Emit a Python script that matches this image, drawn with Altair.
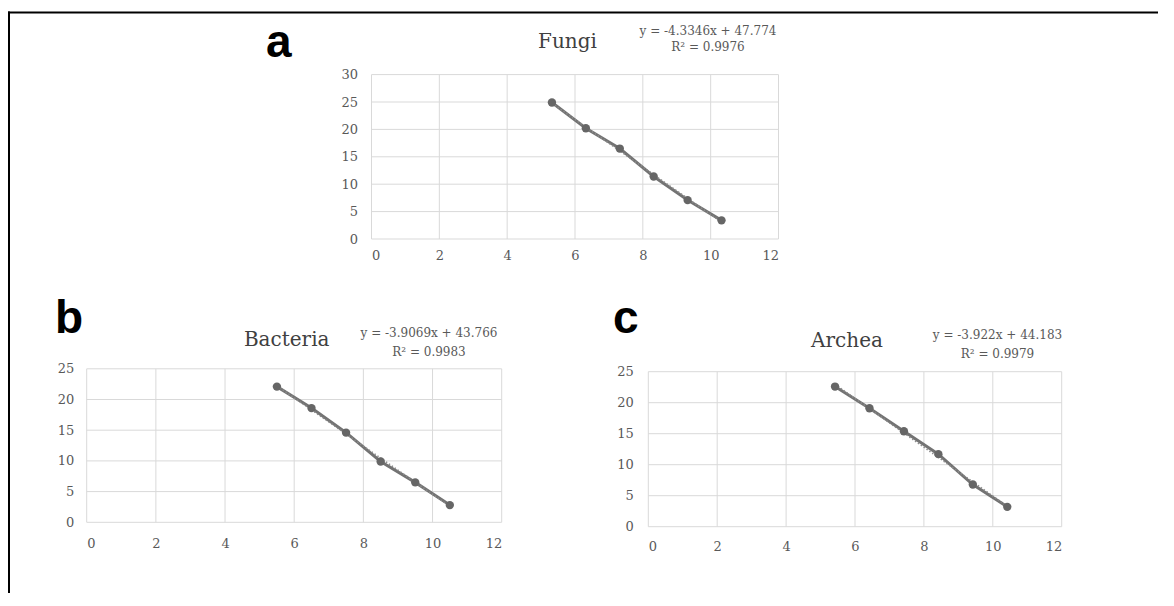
import altair as alt
import pandas as pd

# ---------------- data ----------------
panel_letters = ["a", "b", "c"]
panel_titles = ["Fungi", "Bacteria", "Archea"]
equations = ["y = -4.3346x + 47.774", "y = -3.9069x + 43.766", "y = -3.922x + 44.183"]
r_squared = ["R\u00b2 = 0.9976", "R\u00b2 = 0.9983", "R\u00b2 = 0.9979"]

fungi_x = [5.32, 6.32, 7.32, 8.32, 9.32, 10.32]
fungi_y = [24.9, 20.2, 16.5, 11.4, 7.1, 3.4]
bacteria_x = [5.5, 6.5, 7.5, 8.5, 9.5, 10.5]
bacteria_y = [22.1, 18.6, 14.6, 9.9, 6.5, 2.8]
archea_x = [5.42, 6.42, 7.42, 8.42, 9.42, 10.42]
archea_y = [22.6, 19.1, 15.4, 11.7, 6.8, 3.2]

x_ticks = [0, 2, 4, 6, 8, 10, 12]
fungi_y_ticks = [0, 5, 10, 15, 20, 25, 30]
other_y_ticks = [0, 5, 10, 15, 20, 25]

# ---------------- layout / style ----------------
W, H = 1150, 585
GRID = "#d9d9d9"
LABEL = "#595959"
SERIF = "DejaVu Serif"

panels = [
    dict(x=fungi_x, y=fungi_y, yt=fungi_y_ticks, xr=[363.5, 770.5], yr=[231, 66.6],
         xpad=10, ypad=14, title=(559.5, 40), eq=(700, 27, 42.5), lab=(258, 49)),
    dict(x=bacteria_x, y=bacteria_y, yt=other_y_ticks, xr=[78.7, 493.7], yr=[514.3, 360.8],
         xpad=15, ypad=13, title=(278.7, 338), eq=(421, 329, 348), lab=(47, 325)),
    dict(x=archea_x, y=archea_y, yt=other_y_ticks, xr=[640.3, 1053.7], yr=[518.7, 363.7],
         xpad=14, ypad=15, title=(839, 339), eq=(989.5, 331, 349.5), lab=(605, 325)),
]


def panel_layers(i, p):
    xmax = x_ticks[-1]
    ymax = p["yt"][-1]
    xs = alt.Scale(domain=[0, xmax], range=p["xr"], nice=False, zero=False)
    ys = alt.Scale(domain=[0, ymax], range=p["yr"], nice=False, zero=False)
    layers = []

    vgrid = pd.DataFrame({"v": x_ticks, "y0": [0] * len(x_ticks), "y1": [ymax] * len(x_ticks)})
    layers.append(
        alt.Chart(vgrid).mark_rule(color=GRID, strokeWidth=1).encode(
            x=alt.X("v:Q", scale=xs, axis=alt.Axis(
                orient="bottom", values=x_ticks, grid=False, domain=False, ticks=False, tickSize=0,
                labelPadding=p["xpad"], offset=p["yr"][0] - H, title=None,
                labelFont=SERIF, labelFontSize=13, labelColor=LABEL)),
            y=alt.Y("y0:Q", scale=ys, axis=None),
            y2="y1:Q",
        )
    )
    hgrid = pd.DataFrame({"v": p["yt"], "x0": [0] * len(p["yt"]), "x1": [xmax] * len(p["yt"])})
    layers.append(
        alt.Chart(hgrid).mark_rule(color=GRID, strokeWidth=1).encode(
            y=alt.Y("v:Q", scale=ys, axis=alt.Axis(
                orient="left", values=p["yt"], grid=False, domain=False, ticks=False, tickSize=0,
                labelPadding=p["ypad"], offset=-p["xr"][0], title=None,
                labelFont=SERIF, labelFontSize=13, labelColor=LABEL)),
            x=alt.X("x0:Q", scale=xs, axis=None),
            x2="x1:Q",
        )
    )

    df = pd.DataFrame({"x": p["x"], "y": p["y"]})
    base = alt.Chart(df)
    layers.append(
        base.mark_line(color="#737373", strokeWidth=3).encode(
            x=alt.X("x:Q", scale=xs, axis=None),
            y=alt.Y("y:Q", scale=ys, axis=None),
        )
    )
    layers.append(
        base.transform_regression("x", "y").mark_line(
            color="#8c8c8c", strokeWidth=1.5, strokeDash=[1.5, 2]).encode(
            x=alt.X("x:Q", scale=xs, axis=None),
            y=alt.Y("y:Q", scale=ys, axis=None),
        )
    )
    layers.append(
        base.mark_circle(size=70, color="#666666", opacity=1).encode(
            x=alt.X("x:Q", scale=xs, axis=None),
            y=alt.Y("y:Q", scale=ys, axis=None),
        )
    )

    tx, ty = p["title"]
    layers.append(
        alt.Chart(pd.DataFrame({"t": [panel_titles[i]]})).mark_text(
            font=SERIF, fontSize=20, color="#404040", align="center", baseline="alphabetic"
        ).encode(x=alt.value(tx), y=alt.value(ty), text="t:N")
    )
    ex, ey1, ey2 = p["eq"]
    layers.append(
        alt.Chart(pd.DataFrame({"t": [equations[i]]})).mark_text(
            font=SERIF, fontSize=12, color=LABEL, align="center", baseline="alphabetic"
        ).encode(x=alt.value(ex), y=alt.value(ey1), text="t:N")
    )
    layers.append(
        alt.Chart(pd.DataFrame({"t": [r_squared[i]]})).mark_text(
            font=SERIF, fontSize=12, color=LABEL, align="center", baseline="alphabetic"
        ).encode(x=alt.value(ex), y=alt.value(ey2), text="t:N")
    )
    lx, ly = p["lab"]
    layers.append(
        alt.Chart(pd.DataFrame({"t": [panel_letters[i]]})).mark_text(
            font="Liberation Sans", fontSize=46, fontWeight="bold", color="#000000",
            align="left", baseline="alphabetic"
        ).encode(x=alt.value(lx), y=alt.value(ly), text="t:N")
    )
    return layers


all_layers = []
for i, p in enumerate(panels):
    all_layers += panel_layers(i, p)

frame = pd.DataFrame({"k": [0]})
all_layers.append(
    alt.Chart(frame).mark_rule(color="#000000", strokeWidth=2).encode(
        x=alt.value(0), x2=alt.value(W), y=alt.value(4.5))
)
all_layers.append(
    alt.Chart(frame).mark_rule(color="#000000", strokeWidth=2).encode(
        x=alt.value(1), y=alt.value(3.5), y2=alt.value(H))
)

chart = (
    alt.layer(*all_layers)
    .resolve_scale(x="independent", y="independent")
    .properties(width=W, height=H, autosize=alt.AutoSizeParams(type="none"), padding=0)
    .configure_view(stroke=None)
)

chart.save("out.html", embed_options={"renderer": "svg", "actions": False})
